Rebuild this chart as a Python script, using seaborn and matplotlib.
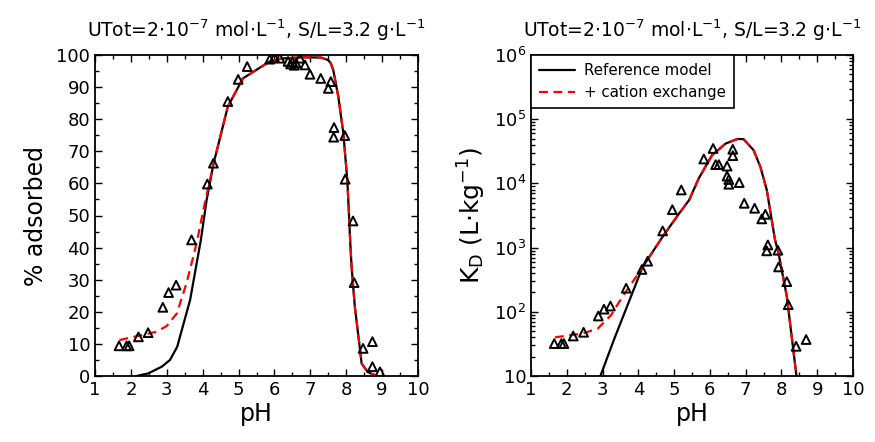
import numpy as np
import pandas as pd
import seaborn as sns
import matplotlib
matplotlib.use("Agg")
import matplotlib.pyplot as plt
from matplotlib.ticker import MultipleLocator, LogLocator, FixedLocator, FixedFormatter, NullFormatter

# ---- % adsorbed vs pH: measurements ----
ph_ads = [1.67, 1.88, 1.95, 2.21, 2.48, 2.89, 3.05, 3.26, 3.69, 4.13, 4.30, 4.70,
          4.99, 5.24, 5.87, 6.00, 6.15, 6.38, 6.45, 6.50, 6.55, 6.60, 6.71, 6.85,
          6.99, 7.29, 7.50, 7.57, 7.65, 7.66, 7.96, 7.97, 8.19, 8.22, 8.47, 8.73,
          8.73, 8.94]
ads = [9.4, 9.4, 9.4, 12.2, 13.5, 21.4, 26.0, 28.3, 42.4, 59.8, 66.3, 85.5,
       92.4, 96.4, 98.7, 99.2, 99.0, 98.0, 97.2, 97.8, 96.8, 97.5, 99.0, 96.9,
       94.0, 92.7, 89.6, 91.7, 74.4, 77.4, 74.9, 61.3, 48.3, 29.1, 8.6, 10.7,
       2.9, 1.3]

# reference surface complexation model
ref_ph = [2.16, 2.48, 2.86, 3.09, 3.29, 3.65, 3.95, 4.11, 4.30, 4.70, 5.12, 5.87,
          6.20, 6.80, 7.30, 7.50, 7.57, 7.64, 7.78, 7.92, 8.03, 8.08, 8.11, 8.15,
          8.24, 8.43, 8.60, 8.80]
ref_ads = [0.0, 0.8, 2.9, 5.0, 9.1, 23.7, 42.4, 54.8, 66.0, 83.9, 92.7, 98.0,
           98.9, 99.3, 99.2, 98.4, 97.4, 95.3, 87.0, 75.6, 61.0, 49.6, 42.0, 34.0,
           21.6, 3.9, 1.2, 0.3]

# model including cation exchange
cx_ph = [1.68, 2.21, 2.72, 3.00, 3.28, 3.55, 3.83, 4.06, 4.30, 4.70, 5.12, 5.87,
         6.20, 6.80, 7.30, 7.50, 7.57, 7.64, 7.78, 7.92, 8.03, 8.08, 8.11, 8.15,
         8.24, 8.43, 8.60, 8.80]
cx_ads = [11.2, 12.5, 13.8, 15.6, 19.5, 28.9, 41.3, 53.9, 66.0, 83.9, 92.7, 98.0,
          98.9, 99.3, 99.2, 98.4, 97.4, 95.3, 87.0, 75.6, 61.0, 49.6, 42.0, 34.0,
          21.6, 3.9, 1.2, 0.3]

# ---- distribution coefficient KD vs pH: measurements ----
ph_kd = [1.65, 1.85, 1.92, 2.18, 2.47, 2.88, 3.04, 3.22, 3.66, 4.10, 4.26, 4.68,
         4.95, 5.20, 5.83, 6.09, 6.16, 6.25, 6.48, 6.48, 6.53, 6.53, 6.64, 6.64,
         6.82, 6.96, 7.25, 7.45, 7.55, 7.62, 7.59, 7.90, 7.92, 8.15, 8.19, 8.41,
         8.69]
kd = [32, 32, 32, 42, 48, 86, 110, 123, 233, 457, 614, 1820,
      3900, 7900, 24000, 35000, 19600, 19600, 18600, 13000, 11500, 9700, 34000, 27000,
      10300, 4900, 4100, 2800, 3300, 1100, 890, 910, 500, 295, 129, 29,
      37]

ref_kd_ph = [2.94, 3.32, 3.75, 4.12, 4.68, 5.14, 5.42, 5.69, 6.06, 6.44, 6.76,
             6.94, 7.22, 7.41, 7.59, 7.82, 7.92, 8.15, 8.42]
ref_kd = [10, 37, 150, 500, 1480, 3400, 5500, 12000, 27500, 41700, 49000,
          49000, 33000, 18200, 7900, 1320, 810, 174, 10]

cx_kd_ph = [1.67, 2.45, 2.87, 3.24, 3.56, 4.07, 4.68, 5.14, 5.42, 5.69, 6.06,
            6.44, 6.76, 6.94, 7.22, 7.41, 7.59, 7.82, 7.92, 8.15, 8.42]
cx_kd = [40, 46, 55, 89, 174, 447, 1480, 3400, 5500, 12000, 27500,
         41700, 49000, 49000, 33000, 18200, 7900, 1320, 810, 174, 10]

x_ticks = [1, 2, 3, 4, 5, 6, 7, 8, 9, 10]
kd_tick_vals = [10, 1e2, 1e3, 1e4, 1e5, 1e6]
kd_tick_labels = ["10", "$10^2$", "$10^3$", "$10^4$", "$10^5$", "$10^6$"]

title = r"UTot=2$\cdot$10$^{-7}$ mol$\cdot$L$^{-1}$, S/L=3.2 g$\cdot$L$^{-1}$"

sns.set_theme(style="ticks")
plt.rcParams["font.family"] = ["DejaVu Sans"]
plt.rcParams["mathtext.fontset"] = "dejavusans"
for key in ("text.color", "axes.labelcolor", "xtick.color", "ytick.color",
            "axes.edgecolor"):
    plt.rcParams[key] = "black"

fig = plt.figure(figsize=(8.75, 4.42), dpi=100)
ax1 = fig.add_axes([95 / 875, 66 / 442, 323 / 875, 321 / 442])
ax2 = fig.add_axes([531 / 875, 66 / 442, 322 / 875, 321 / 442])

line_kw = dict(linewidth=1.6, sort=False, estimator=None)
mark_kw = dict(marker="^", s=40, facecolor="none", edgecolor="black",
               linewidth=1.4, zorder=5)

# left panel
sns.lineplot(x=ref_ph, y=ref_ads, ax=ax1, color="black", **line_kw)
sns.lineplot(x=cx_ph, y=cx_ads, ax=ax1, color="red", dashes=False,
             linestyle=(0, (4, 2.5)), **line_kw)
sns.scatterplot(x=ph_ads, y=ads, ax=ax1, **mark_kw)
ax1.set_xlim(1, 10)
ax1.set_ylim(0, 100)
ax1.xaxis.set_major_locator(FixedLocator(x_ticks))
ax1.xaxis.set_minor_locator(MultipleLocator(0.5))
ax1.yaxis.set_major_locator(MultipleLocator(10))
ax1.yaxis.set_minor_locator(MultipleLocator(5))
ax1.set_ylabel("% adsorbed", fontsize=17, labelpad=6)

# right panel
sns.lineplot(x=ref_kd_ph, y=ref_kd, ax=ax2, color="black",
             label="Reference model", **line_kw)
sns.lineplot(x=cx_kd_ph, y=cx_kd, ax=ax2, color="red", dashes=False,
             linestyle=(0, (4, 2.5)), label="+ cation exchange", **line_kw)
sns.scatterplot(x=ph_kd, y=kd, ax=ax2, **mark_kw)
ax2.set_yscale("log")
ax2.set_xlim(1, 10)
ax2.set_ylim(10, 1e6)
ax2.xaxis.set_major_locator(FixedLocator(x_ticks))
ax2.xaxis.set_minor_locator(MultipleLocator(0.5))
ax2.yaxis.set_major_locator(FixedLocator(kd_tick_vals))
ax2.yaxis.set_major_formatter(FixedFormatter(kd_tick_labels))
ax2.yaxis.set_minor_locator(LogLocator(base=10, subs=np.arange(2, 10)))
ax2.yaxis.set_minor_formatter(NullFormatter())
ax2.set_ylabel(r"K$_\mathrm{D}$ (L$\cdot$kg$^{-1}$)", fontsize=18, labelpad=4)

leg = ax2.legend(loc="upper left", borderaxespad=0, frameon=True, fancybox=False,
                 fontsize=10.8, handlelength=2.4, borderpad=0.55,
                 labelspacing=0.45, handletextpad=0.6)
leg.get_frame().set_edgecolor("black")
leg.get_frame().set_linewidth(1.2)
leg.get_frame().set_alpha(1.0)

for ax in (ax1, ax2):
    ax.set_xlabel("pH", fontsize=17, labelpad=2)
    ax.set_title(title, fontsize=13.5, pad=13)
    ax.tick_params(which="both", direction="in", top=True, right=True,
                   labelsize=13, width=1.0, color="black", labelcolor="black")
    ax.tick_params(which="major", length=5)
    ax.tick_params(which="minor", length=3)
    for sp in ax.spines.values():
        sp.set_linewidth(1.3)
        sp.set_color("black")

fig.savefig("out.png", dpi=100)
